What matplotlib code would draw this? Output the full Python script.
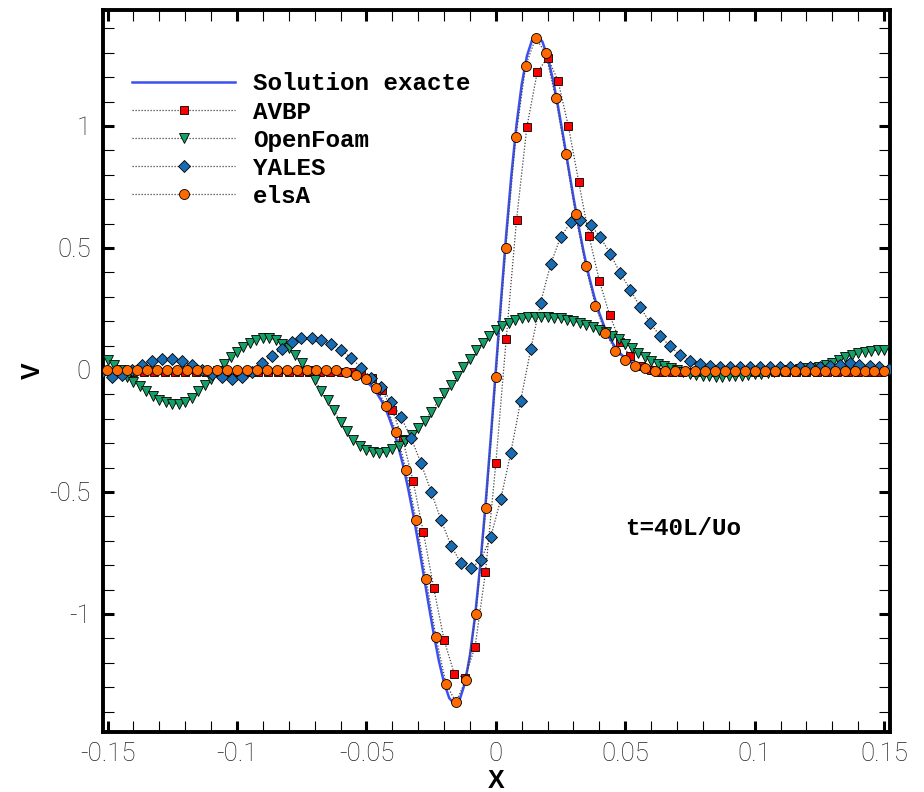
# Vortex convection test: V profile across the vortex at t = 40 L/Uo
import matplotlib.pyplot as plt
from matplotlib.ticker import MultipleLocator, FixedLocator, FixedFormatter

# ---- exact solution
x_exact = [-0.152, -0.07,
           -0.060, -0.058, -0.056, -0.054, -0.052, -0.050, -0.048, -0.046, -0.044, -0.042,
           -0.040, -0.038, -0.036, -0.034, -0.032, -0.030, -0.028, -0.026, -0.024, -0.022,
           -0.020, -0.018, -0.016, -0.014, -0.012, -0.010, -0.008, -0.006, -0.004, -0.002,
           0.0,
           0.002, 0.004, 0.006, 0.008, 0.010, 0.012, 0.014, 0.016, 0.018, 0.020,
           0.022, 0.024, 0.026, 0.028, 0.030, 0.032, 0.034, 0.036, 0.038, 0.040,
           0.042, 0.044, 0.046, 0.048, 0.050, 0.052, 0.054, 0.056, 0.058, 0.060,
           0.07, 0.1523]
v_exact = [0.0, 0.0,
           -0.006, -0.010, -0.015, -0.023, -0.033, -0.048, -0.068, -0.095, -0.130, -0.175,
           -0.232, -0.301, -0.384, -0.480, -0.588, -0.707, -0.833, -0.960, -1.082, -1.193,
           -1.283, -1.345, -1.370, -1.352, -1.286, -1.170, -1.006, -0.798, -0.554, -0.284,
           0.0,
           0.284, 0.554, 0.798, 1.006, 1.170, 1.286, 1.352, 1.370, 1.345, 1.283,
           1.193, 1.082, 0.960, 0.833, 0.707, 0.588, 0.480, 0.384, 0.301, 0.232,
           0.175, 0.130, 0.095, 0.068, 0.048, 0.033, 0.023, 0.015, 0.010, 0.006,
           0.0, 0.0]

# ---- AVBP (red squares)
x_avbp = [-0.148, -0.144, -0.140, -0.136, -0.132, -0.128, -0.124, -0.120, -0.116, -0.112,
          -0.108, -0.104, -0.100, -0.096, -0.092, -0.088, -0.084, -0.080, -0.076, -0.072,
          -0.068, -0.064, -0.060, -0.056, -0.052, -0.048, -0.044, -0.040, -0.036, -0.032,
          -0.028, -0.024, -0.020, -0.016, -0.012, -0.008, -0.004, 0.000, 0.004, 0.008,
          0.012, 0.016, 0.020, 0.024, 0.028, 0.032, 0.036, 0.040, 0.044, 0.048,
          0.052, 0.056, 0.060, 0.064, 0.068, 0.072, 0.076, 0.080, 0.084, 0.088,
          0.092, 0.096, 0.100, 0.104, 0.108, 0.112, 0.116, 0.120, 0.124, 0.128,
          0.132, 0.136, 0.140, 0.144, 0.148]
v_avbp = [-0.01, -0.01, -0.01, -0.01, -0.01, -0.01, -0.01, -0.01, -0.01, -0.01,
          -0.01, -0.01, -0.01, -0.01, -0.01, -0.01, -0.01, -0.01, -0.01, -0.01,
          -0.01, -0.01, -0.01, -0.008, -0.015, -0.035, -0.082, -0.164, -0.284, -0.454,
          -0.665, -0.893, -1.107, -1.247, -1.262, -1.134, -0.828, -0.383, 0.126, 0.615,
          0.996, 1.22, 1.28, 1.186, 1.0, 0.772, 0.549, 0.365, 0.224, 0.116,
          0.055, 0.018, 0.0, -0.01, -0.01, -0.01, -0.01, -0.01, -0.01, -0.01,
          -0.01, -0.01, -0.01, -0.01, -0.01, -0.01, -0.01, -0.01, -0.01, -0.01,
          -0.01, -0.01, -0.01, -0.01, -0.01]

# ---- OpenFoam (green triangles)
x_ofoam = [-0.1500, -0.1475, -0.1450, -0.1425, -0.1400, -0.1375, -0.1350, -0.1325, -0.1300, -0.1275,
           -0.1250, -0.1225, -0.1200, -0.1175, -0.1150, -0.1125, -0.1100, -0.1075, -0.1050, -0.1025,
           -0.1000, -0.0975, -0.0950, -0.0925, -0.0900, -0.0875, -0.0850, -0.0825, -0.0800, -0.0775,
           -0.0750, -0.0725, -0.0700, -0.0675, -0.0650, -0.0625, -0.0600, -0.0575, -0.0550, -0.0525,
           -0.0500, -0.0475, -0.0450, -0.0425, -0.0400, -0.0375, -0.0350, -0.0325, -0.0300, -0.0275,
           -0.0250, -0.0225, -0.0200, -0.0175, -0.0150, -0.0125, -0.0100, -0.0075, -0.0050, -0.0025,
           0.0000, 0.0025, 0.0050, 0.0075, 0.0100, 0.0125, 0.0150, 0.0175, 0.0200, 0.0225,
           0.0250, 0.0275, 0.0300, 0.0325, 0.0350, 0.0375, 0.0400, 0.0425, 0.0450, 0.0475,
           0.0500, 0.0525, 0.0550, 0.0575, 0.0600, 0.0625, 0.0650, 0.0675, 0.0700, 0.0725,
           0.0750, 0.0775, 0.0800, 0.0825, 0.0850, 0.0875, 0.0900, 0.0925, 0.0950, 0.0975,
           0.1000, 0.1025, 0.1050, 0.1075, 0.1100, 0.1125, 0.1150, 0.1175, 0.1200, 0.1225,
           0.1250, 0.1275, 0.1300, 0.1325, 0.1350, 0.1375, 0.1400, 0.1425, 0.1450, 0.1475,
           0.1500]
v_ofoam = [0.040, 0.020, 0.000, -0.028, -0.050, -0.068, -0.088, -0.108, -0.122, -0.133,
           -0.140, -0.140, -0.132, -0.115, -0.088, -0.062, -0.037, -0.005, 0.025, 0.053,
           0.075, 0.095, 0.110, 0.122, 0.130, 0.130, 0.123, 0.105, 0.088, 0.063,
           0.028, -0.005, -0.040, -0.085, -0.125, -0.165, -0.215, -0.252, -0.288, -0.312,
           -0.328, -0.338, -0.342, -0.336, -0.325, -0.310, -0.290, -0.268, -0.240, -0.208,
           -0.172, -0.132, -0.096, -0.062, -0.025, 0.010, 0.045, 0.080, 0.112, 0.140,
           0.162, 0.178, 0.192, 0.203, 0.211, 0.216, 0.218, 0.218, 0.217, 0.214,
           0.211, 0.206, 0.201, 0.193, 0.185, 0.175, 0.165, 0.154, 0.140, 0.126,
           0.108, 0.088, 0.070, 0.053, 0.038, 0.025, 0.014, 0.006, 0.000, -0.008,
           -0.016, -0.021, -0.025, -0.027, -0.028, -0.028, -0.027, -0.026, -0.025, -0.022,
           -0.018, -0.015, -0.011, -0.008, -0.004, -0.002, 0.000, 0.003, 0.006, 0.009,
           0.013, 0.020, 0.030, 0.040, 0.051, 0.060, 0.068, 0.074, 0.079, 0.081,
           0.082]

# ---- YALES (blue diamonds)
x_yales = [-0.1521, -0.1482, -0.1444, -0.1405, -0.1367, -0.1328, -0.1290, -0.1251, -0.1213, -0.1174,
           -0.1136, -0.1097, -0.1059, -0.1020, -0.0982, -0.0943, -0.0905, -0.0866, -0.0828, -0.0789,
           -0.0751, -0.0712, -0.0674, -0.0635, -0.0597, -0.0558, -0.0520, -0.0481, -0.0443, -0.0404,
           -0.0366, -0.0327, -0.0289, -0.0250, -0.0212, -0.0173, -0.0135, -0.0096, -0.0058, -0.0019,
           0.0019, 0.0058, 0.0096, 0.0135, 0.0173, 0.0212, 0.0250, 0.0289, 0.0327, 0.0366,
           0.0404, 0.0443, 0.0481, 0.0520, 0.0558, 0.0597, 0.0635, 0.0674, 0.0712, 0.0751,
           0.0789, 0.0828, 0.0866, 0.0905, 0.0943, 0.0982, 0.1020, 0.1059, 0.1097, 0.1136,
           0.1174, 0.1213, 0.1251, 0.1290, 0.1328, 0.1367, 0.1405, 0.1444, 0.1482, 0.1521]
v_yales = [-0.010, -0.030, -0.020, 0.000, 0.020, 0.037, 0.045, 0.045, 0.037, 0.020,
           0.000, -0.018, -0.030, -0.037, -0.030, -0.010, 0.030, 0.057, 0.087, 0.113,
           0.130, 0.130, 0.123, 0.105, 0.082, 0.048, 0.009, -0.032, -0.071, -0.130,
           -0.194, -0.280, -0.383, -0.499, -0.615, -0.720, -0.792, -0.813, -0.779, -0.683,
           -0.530, -0.339, -0.126, 0.085, 0.276, 0.434, 0.544, 0.605, 0.615, 0.594,
           0.544, 0.474, 0.396, 0.328, 0.257, 0.191, 0.139, 0.096, 0.061, 0.038,
           0.025, 0.014, 0.012, 0.010, 0.010, 0.010, 0.010, 0.010, 0.010, 0.010,
           0.010, 0.010, 0.012, 0.015, 0.020, 0.027, 0.022, 0.015, 0.010, 0.005]

# ---- elsA (orange circles)
x_elsa = [-0.15015, -0.1463, -0.14245, -0.1386, -0.13475, -0.1309, -0.12705, -0.1232, -0.11935, -0.1155,
          -0.11165, -0.1078, -0.10395, -0.1001, -0.09625, -0.0924, -0.08855, -0.0847, -0.08085, -0.077,
          -0.07315, -0.0693, -0.06545, -0.0616, -0.05775, -0.0539, -0.05005, -0.0462, -0.04235, -0.0385,
          -0.03465, -0.0308, -0.02695, -0.0231, -0.01925, -0.0154, -0.01155, -0.0077, -0.00385, 0.0,
          0.00385, 0.0077, 0.01155, 0.0154, 0.01925, 0.0231, 0.02695, 0.0308, 0.03465, 0.0385,
          0.04235, 0.0462, 0.05005, 0.0539, 0.05775, 0.0616, 0.06545, 0.0693, 0.07315, 0.077,
          0.08085, 0.0847, 0.08855, 0.0924, 0.09625, 0.1001, 0.10395, 0.1078, 0.11165, 0.1155,
          0.11935, 0.1232, 0.12705, 0.1309, 0.13475, 0.1386, 0.14245, 0.1463, 0.15015]
v_elsa = [0.0, 0.0, 0.0, 0.0, 0.0, 0.0, 0.0, 0.0, 0.0, 0.0,
          0.0, 0.0, 0.0, 0.0, 0.0, 0.0, 0.0, 0.0, 0.0, 0.0,
          0.0, 0.0, 0.0, 0.0, -0.007, -0.020, -0.037, -0.075, -0.148, -0.255,
          -0.410, -0.615, -0.857, -1.096, -1.287, -1.362, -1.270, -1.001, -0.567, -0.030,
          0.500, 0.954, 1.247, 1.360, 1.298, 1.116, 0.884, 0.638, 0.426, 0.262,
          0.153, 0.079, 0.041, 0.014, 0.008, -0.004, -0.004, -0.004, -0.004, -0.004,
          -0.004, -0.004, -0.004, -0.004, -0.004, -0.004, -0.004, -0.004, -0.004, -0.004,
          -0.004, -0.004, -0.004, -0.004, -0.004, -0.004, -0.004, -0.004, -0.004]

x_ticks = [-0.15, -0.1, -0.05, 0.0, 0.05, 0.1, 0.15]
x_ticklabels = ['-0.15', '-0.1', '-0.05', '0', '0.05', '0.1', '0.15']
y_ticks = [-1.0, -0.5, 0.0, 0.5, 1.0]
y_ticklabels = ['-1', '-0.5', '0', '0.5', '1']

W, H = 924, 792
fig = plt.figure(figsize=(W / 100, H / 100), dpi=100)
ax = fig.add_axes([102.7 / W, 1 - 732 / H, (890 - 102.7) / W, (732 - 10) / H])

dots = dict(linestyle=(0, (1, 1.4)), color='#444444', linewidth=0.9,
            markeredgecolor='black', markeredgewidth=0.6)

ax.plot(x_exact, v_exact, color='#3b50f0', linewidth=1.8, label='Solution exacte', zorder=2)
ax.plot(x_avbp, v_avbp, marker='s', markersize=6.2, markerfacecolor='#ff0000',
        label='AVBP', zorder=3, **dots)
ax.plot(x_ofoam, v_ofoam, marker='v', markersize=6.5, markerfacecolor='#16a068',
        label='OpenFoam', zorder=4, **dots)
ax.plot(x_yales, v_yales, marker='D', markersize=6.5, markerfacecolor='#1a6cb2',
        label='YALES', zorder=5, **dots)
ax.plot(x_elsa, v_elsa, marker='o', markersize=7.2, markerfacecolor='#ff6a00',
        label='elsA', zorder=6, **dots)

ax.set_xlim(-0.1519, 0.1523)
ax.set_ylim(-1.484, 1.475)

ax.xaxis.set_major_locator(FixedLocator(x_ticks))
ax.xaxis.set_major_formatter(FixedFormatter(x_ticklabels))
ax.yaxis.set_major_locator(FixedLocator(y_ticks))
ax.yaxis.set_major_formatter(FixedFormatter(y_ticklabels))
ax.xaxis.set_minor_locator(MultipleLocator(0.01))
ax.yaxis.set_minor_locator(MultipleLocator(0.1))

for s in ax.spines.values():
    s.set_linewidth(2.8)
ax.tick_params(which='both', direction='in', top=True, right=True, color='black')
ax.tick_params(which='major', length=8, width=2.2)
ax.tick_params(which='minor', length=8, width=0.8)
ax.tick_params(axis='x', which='major', pad=7)
ax.tick_params(axis='y', which='major', pad=8.5)
for lab in ax.get_xticklabels() + ax.get_yticklabels():
    lab.set_fontfamily('Roboto')
    lab.set_fontweight('light')
    lab.set_fontsize(18.5)
    lab.set_color('#202020')

ax.set_xlabel('X', fontsize=18, fontweight='bold', fontfamily='Liberation Sans')
ax.set_ylabel('V', fontsize=18, fontweight='bold', fontfamily='Liberation Sans')
ax.xaxis.set_label_coords(0.5, -0.051)
ax.yaxis.set_label_coords(-0.073, 0.5)

leg = ax.legend(loc='upper left', bbox_to_anchor=(0.0372, 0.9135), frameon=False,
                borderpad=0, borderaxespad=0, handlelength=4.25, handletextpad=0.73,
                labelspacing=0.21,
                prop={'family': 'Liberation Mono', 'weight': 'bold', 'size': 17.5})

ax.text(0.0499, -0.652, 't=40L/Uo', ha='left', va='center',
        fontfamily='Liberation Mono', fontweight='bold', fontsize=17.5)

fig.savefig('out.png', dpi=100)
